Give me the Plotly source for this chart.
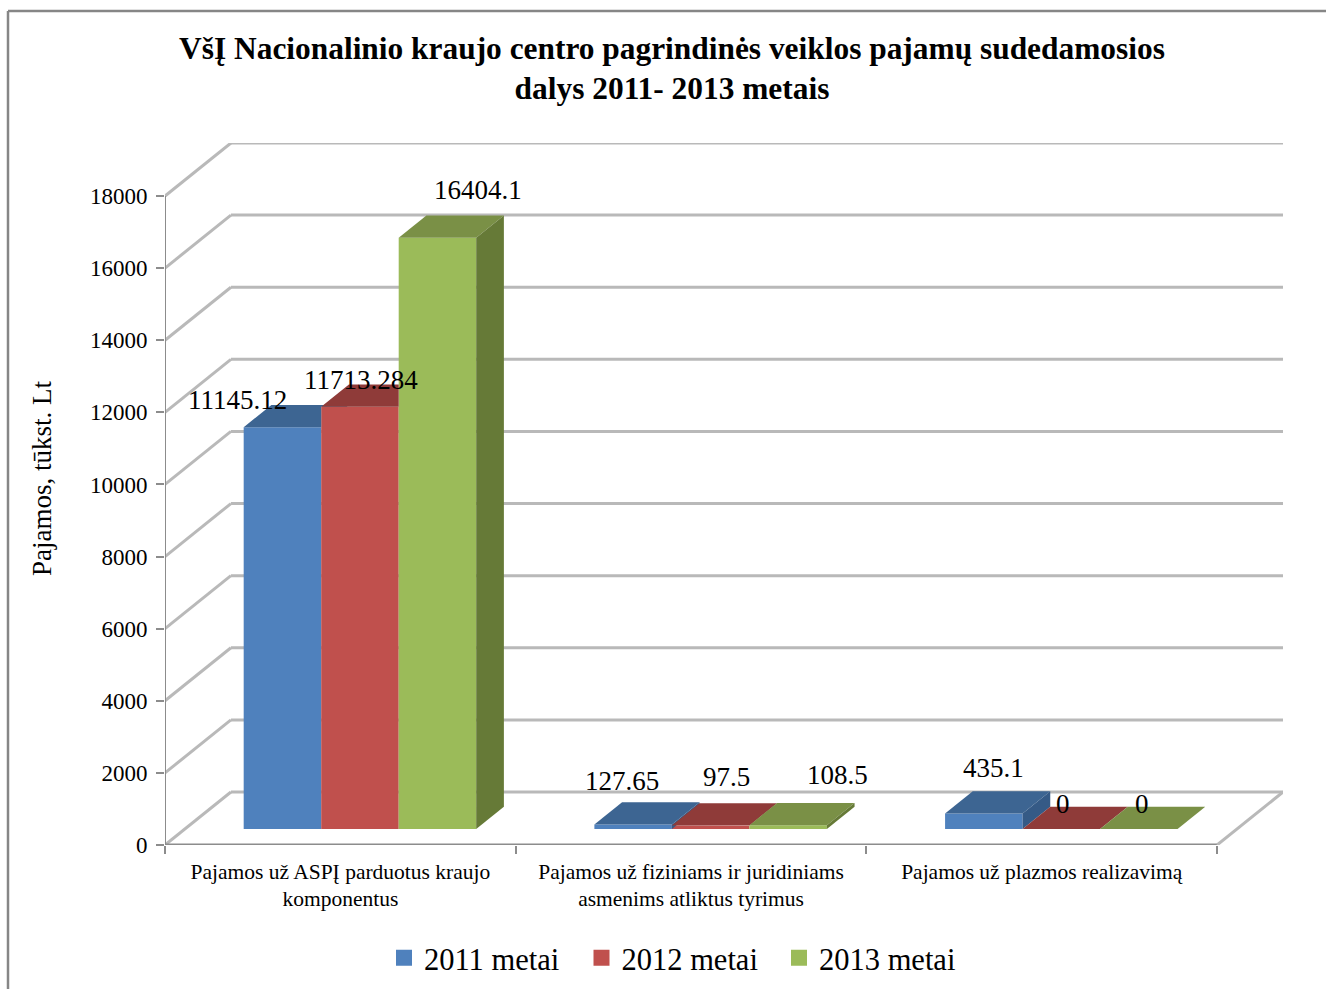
import plotly.graph_objects as go

title_text = "VšĮ Nacionalinio kraujo centro pagrindinės veiklos pajamų sudedamosios<br>dalys 2011- 2013 metais"
axis_title = "Pajamos, tūkst. Lt"
categories = ["Pajamos už ASPĮ parduotus kraujo<br>komponentus",
              "Pajamos už fiziniams ir juridiniams<br>asmenims atliktus tyrimus",
              "Pajamos už plazmos realizavimą"]
series_names = ["2011 metai", "2012 metai", "2013 metai"]
values_2011 = [11145.12, 127.65, 435.1]
values_2012 = [11713.284, 97.5, 0]
values_2013 = [16404.1, 108.5, 0]
labels_2011 = ["11145.12", "127.65", "435.1"]
labels_2012 = ["11713.284", "97.5", "0"]
labels_2013 = ["16404.1", "108.5", "0"]
y_ticks = [0, 2000, 4000, 6000, 8000, 10000, 12000, 14000, 16000, 18000]

front_colors = ["#4F81BD", "#C0504D", "#9BBB59"]
top_colors = ["#3D6592", "#8F3B39", "#7A9046"]
side_colors = ["#355A86", "#843634", "#667A37"]
GRID = "#B9B9B9"
AXIS = "#8C8C8C"
SERIF = "Liberation Serif"

# oblique projection of the depth axis onto the value/category axes
DX, DY = 0.188, 1470
F_FRONT, F_BACK = 0.30, 0.72
GAP, BAR_W = 0.168, 0.221
YMAX = y_ticks[-1]
ncat = len(categories)

L, R, T, B = 165, 43, 143, 144
W, H = 1326, 989
px_x = lambda p: (p - L) / (W - L - R)
px_y = lambda p: (H - B - p) / (H - T - B)

series = [values_2011, values_2012, values_2013]
texts = [labels_2011, labels_2012, labels_2013]
label_shift = [[(-103, -12), (-69, 4), (-48, 6)],
               [(-57, -12), (-42, 9), (-56, -14)],
               [(-17, 8), (-8, 11), (-55, -14)]]

fig = go.Figure()
fx, fy = F_FRONT * DX, F_FRONT * DY
bx, by = (F_BACK - F_FRONT) * DX, (F_BACK - F_FRONT) * DY

for s, vals in enumerate(series):
    xs = [c + GAP + (s + 0.5) * BAR_W + fx for c in range(ncat)]
    fig.add_trace(go.Bar(x=xs, y=vals, base=fy, width=BAR_W, marker=dict(color=front_colors[s], line_width=0),
                         showlegend=False, hoverinfo="skip"))

for s, vals in enumerate(series):
    for c, v in enumerate(vals):
        l = c + GAP + s * BAR_W + fx
        r = l + BAR_W
        top = v + fy
        nxt = series[s + 1][c] if s < 2 else None
        if nxt is not None and nxt > v:
            # the part of the top face behind the next bar's front is hidden
            n = min(nxt + fy, top + by)
            cut = r + bx * (n - top) / by
            px = [l, r, r, cut, r + bx, l + bx, l]
            py = [top, top, n, n, top + by, top + by, top]
        else:
            px = [l, r, r + bx, l + bx, l]
            py = [top, top, top + by, top + by, top]
        fig.add_trace(go.Scatter(x=px, y=py, mode="lines", fill="toself", fillcolor=top_colors[s],
                                 line=dict(width=0), showlegend=False, hoverinfo="skip"))
        if (nxt is None or nxt < v) and v > 0:
            fig.add_trace(go.Scatter(x=[r, r + bx, r + bx, r, r], y=[fy, fy + by, top + by, top, fy], mode="lines",
                                     fill="toself", fillcolor=side_colors[s], line=dict(width=0),
                                     showlegend=False, hoverinfo="skip"))

for s, name in enumerate(series_names):
    fig.add_trace(go.Scatter(x=[None], y=[None], mode="markers", name=name,
                             marker=dict(symbol="square", size=16, color=front_colors[s])))

shapes = []
def seg(x0, y0, x1, y1, color=GRID, width=3):
    shapes.append(dict(type="line", layer="below", xref="x", yref="y", x0=x0, y0=y0, x1=x1, y1=y1,
                       line=dict(color=color, width=width)))

for t in y_ticks:
    seg(DX, t + DY, ncat + DX, t + DY)
    seg(0, t, DX, t + DY)
seg(0, 0, 0, YMAX, AXIS, 2)
seg(0, 0, ncat, 0, AXIS, 3)
seg(ncat, 0, ncat + DX, DY)
# outer chart border
for a, b, c, d in [(8, 11, 8, 995), (8, 11, 1326, 11)]:
    shapes.append(dict(type="line", xref="paper", yref="paper", x0=px_x(a), y0=px_y(b), x1=px_x(c), y1=px_y(d),
                       line=dict(color="#868686", width=2.5)))

annotations = []
for s, vals in enumerate(series):
    for c, v in enumerate(vals):
        xc = c + GAP + (s + 0.5) * BAR_W + fx + bx
        dxs, dys = label_shift[s][c]
        annotations.append(dict(x=xc, y=v + fy + by, xref="x", yref="y", text=texts[s][c], showarrow=False,
                                xshift=dxs + 30, yshift=dys, yanchor="bottom",
                                font=dict(family=SERIF, size=27, color="black")))
annotations.append(dict(x=px_x(25), y=px_y(479), xref="paper", yref="paper", text=axis_title, textangle=-90,
                        showarrow=False, font=dict(family=SERIF, size=27, color="black")))

fig.update_layout(
    width=W, height=H, autosize=False, margin=dict(l=L, r=R, t=T, b=B),
    paper_bgcolor="white", plot_bgcolor="white", barmode="overlay",
    title=dict(text="<b>" + title_text.replace("<br>", "</b><br><b>") + "</b>", x=px_x(672), xanchor="center", xref="paper",
               y=(H - 58.5) / H, yanchor="middle", font=dict(family=SERIF, size=31.4, color="black")),
    xaxis=dict(range=[0, ncat + DX], tickmode="array", tickvals=[i + 0.5 for i in range(ncat)], ticktext=categories,
               showgrid=False, zeroline=False, showline=False, ticks="",
               minor=dict(tickmode="array", tickvals=list(range(ncat + 1)), ticks="outside", ticklen=8, tickcolor=AXIS, tickwidth=2, showgrid=False),
               tickfont=dict(family=SERIF, size=21.5, color="black"), ticklabelstandoff=11),
    yaxis=dict(range=[0, YMAX + DY], tickmode="array", tickvals=y_ticks, tickformat="d", showgrid=False, zeroline=False, showline=False,
               ticks="outside", ticklen=8, tickcolor=AXIS, tickwidth=2, ticklabelstandoff=4,
               tickfont=dict(family=SERIF, size=23, color="black")),
    legend=dict(orientation="h", xref="container", yref="container", x=384 / W, xanchor="left",
                y=(H - 958) / H, yanchor="middle", entrywidth=152.5,
                font=dict(family=SERIF, size=30.5, color="black"), bgcolor="rgba(0,0,0,0)", itemclick=False),
    shapes=shapes, annotations=annotations,
)
fig.write_html("out.html", config={"displayModeBar": False},
               post_script="document.body.style.margin='0';document.body.style.overflow='hidden';")
